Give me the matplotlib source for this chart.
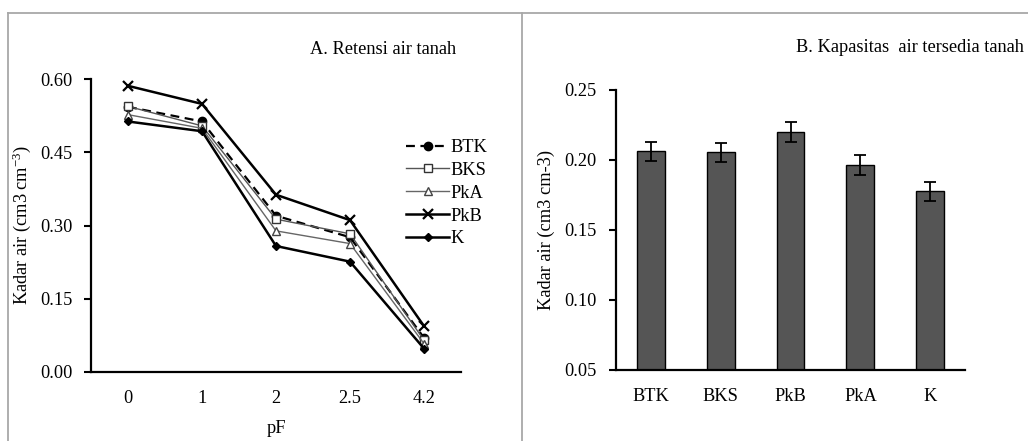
import matplotlib
matplotlib.use("Agg")
import matplotlib.pyplot as plt
from matplotlib.lines import Line2D

plt.rcParams['font.family'] = ['Liberation Serif', 'DejaVu Serif']
plt.rcParams['mathtext.default'] = 'regular'

# Panel A data
pf_labels = ['0', '1', '2', '2.5', '4.2']
btk = [0.543, 0.513, 0.320, 0.276, 0.070]
bks = [0.544, 0.504, 0.313, 0.283, 0.065]
pka = [0.527, 0.499, 0.289, 0.263, 0.058]
pkb = [0.586, 0.549, 0.363, 0.311, 0.094]
k_vals = [0.513, 0.493, 0.258, 0.226, 0.048]

# Panel B data
soils = ['BTK', 'BKS', 'PkB', 'PkA', 'K']
capacity = [0.2064, 0.2055, 0.2198, 0.1964, 0.1776]
cap_err = [0.0068, 0.0070, 0.0070, 0.0070, 0.0070]

W, H = 1028, 441
fig = plt.figure(figsize=(W / 100, H / 100), dpi=100)
fs = 13.2

def px(l, t, r, b):
    return [l / W, 1 - b / H, (r - l) / W, (b - t) / H]

# frame lines
for (x0, y0, x1, y1) in [(8, 13, 1028, 13), (8, 13, 8, 441), (522, 13, 522, 441)]:
    fig.add_artist(Line2D([x0 / W, x1 / W], [1 - y0 / H, 1 - y1 / H],
                          color='#a8a8a8', lw=1.3, transform=fig.transFigure))

# Panel A
ax = fig.add_axes(px(91, 79, 461, 372))
x = list(range(len(pf_labels)))
ax.plot(x, btk, color='black', lw=1.6, ls=(0, (4, 2.5)), marker='o', ms=6, mfc='black', mec='black', label='BTK')
ax.plot(x, bks, color='#555555', lw=1.0, marker='s', ms=6, mfc='white', mec='#333333', label='BKS')
ax.plot(x, pka, color='#666666', lw=1.0, marker='^', ms=6, mfc='white', mec='#444444', label='PkA')
ax.plot(x, pkb, color='black', lw=1.8, marker='x', ms=7, mew=1.6, label='PkB')
ax.plot(x, k_vals, color='black', lw=1.8, marker='D', ms=4, mfc='black', label='K')
ax.set_xlim(-0.5, len(pf_labels) - 0.5)
ax.set_ylim(0, 0.6)
ax.set_yticks([0.0, 0.15, 0.30, 0.45, 0.60])
ax.set_yticklabels(['0.00', '0.15', '0.30', '0.45', '0.60'])
ax.set_xticks(x)
ax.set_xticklabels(pf_labels)
ax.tick_params(axis='x', length=0, pad=13, labelsize=fs)
ax.tick_params(axis='y', length=5, width=1.5, direction='out', pad=8, labelsize=fs)
ax.spines['top'].set_visible(False)
ax.spines['right'].set_visible(False)
for s in ['left', 'bottom']:
    ax.spines[s].set_linewidth(1.6)
ax.set_xlabel('pF', fontsize=fs, labelpad=9)
ax.set_ylabel('Kadar air (cm3 cm$^{-3}$)', fontsize=fs)
ax.yaxis.set_label_coords(-(91 - 33) / 370, 0.5)
ax.legend(loc='upper left', bbox_to_anchor=(406 / W, 1 - 139 / H), bbox_transform=fig.transFigure,
          frameon=False, fontsize=fs, handlelength=2.35, handletextpad=0.1, labelspacing=0.32,
          borderpad=0, borderaxespad=0)
fig.text(310 / W, 1 - 50 / H, 'A. Retensi air tanah', fontsize=fs, va='center', ha='left')

# Panel B
bx = fig.add_axes(px(616, 90, 965, 370))
xb = list(range(len(soils)))
bx.bar(xb, capacity, width=0.4, color='#555555', edgecolor='black', lw=1.0,
       yerr=cap_err, capsize=4, error_kw=dict(ecolor='black', elinewidth=1.3, capthick=1.3))
bx.set_xlim(-0.5, len(soils) - 0.5)
bx.set_ylim(0.05, 0.25)
bx.set_yticks([0.05, 0.10, 0.15, 0.20, 0.25])
bx.set_yticklabels(['0.05', '0.10', '0.15', '0.20', '0.25'])
bx.set_xticks(xb)
bx.set_xticklabels(soils)
bx.tick_params(axis='x', length=0, pad=13, labelsize=fs)
bx.tick_params(axis='y', length=5, width=1.5, direction='out', pad=9, labelsize=fs)
bx.spines['top'].set_visible(False)
bx.spines['right'].set_visible(False)
for s in ['left', 'bottom']:
    bx.spines[s].set_linewidth(1.6)
bx.set_ylabel('Kadar air (cm3 cm-3)', fontsize=fs)
bx.yaxis.set_label_coords(-(616 - 555) / 349, 0.5)
fig.text(796 / W, 1 - 48 / H, 'B. Kapasitas  air tersedia tanah', fontsize=fs, va='center', ha='left')

fig.savefig('out.png', dpi=100)
